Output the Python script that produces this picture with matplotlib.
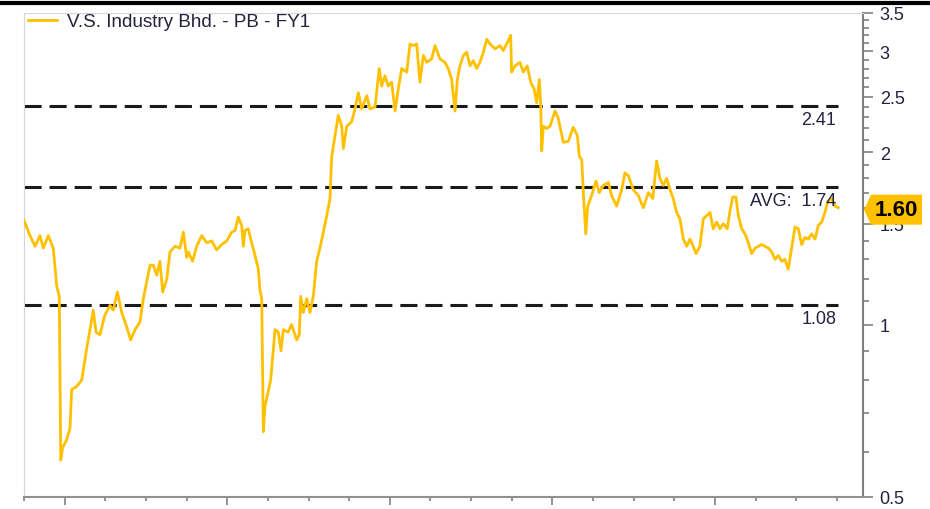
import matplotlib
matplotlib.use('Agg')
import matplotlib.pyplot as plt
from matplotlib.ticker import FixedLocator, NullFormatter, FixedFormatter
from matplotlib.patches import Polygon
from matplotlib.lines import Line2D

plt.rcParams['font.family'] = ['Liberation Sans', 'DejaVu Sans']

# ---- data (time in decimal years, P/B ratio) ----
time = [2018.750, 2018.787, 2018.818, 2018.848, 2018.869, 2018.899, 2018.930, 2018.951,
        2018.967, 2018.976, 2018.988, 2019.013, 2019.033, 2019.043, 2019.074, 2019.105,
        2019.136, 2019.156, 2019.176, 2019.193, 2019.217, 2019.248, 2019.279, 2019.299,
        2019.324, 2019.351, 2019.377, 2019.406, 2019.433, 2019.463, 2019.484, 2019.505,
        2019.525, 2019.545, 2019.566, 2019.586, 2019.603, 2019.628, 2019.648, 2019.679,
        2019.709, 2019.730, 2019.751, 2019.760, 2019.787, 2019.812, 2019.843, 2019.874,
        2019.904, 2019.935, 2019.966, 2019.997, 2020.027, 2020.048, 2020.068, 2020.089,
        2020.099, 2020.109, 2020.129, 2020.150, 2020.171, 2020.191, 2020.201, 2020.212,
        2020.222, 2020.232, 2020.246, 2020.267, 2020.294, 2020.314, 2020.331, 2020.345,
        2020.375, 2020.396, 2020.427, 2020.443, 2020.452, 2020.468, 2020.489, 2020.509,
        2020.529, 2020.550, 2020.570, 2020.591, 2020.612, 2020.632, 2020.642, 2020.663,
        2020.683, 2020.704, 2020.714, 2020.735, 2020.765, 2020.786, 2020.806, 2020.827,
        2020.858, 2020.878, 2020.909, 2020.935, 2020.950, 2020.970, 2020.990, 2021.011,
        2021.032, 2021.052, 2021.073, 2021.104, 2021.124, 2021.144, 2021.165, 2021.185,
        2021.206, 2021.227, 2021.257, 2021.278, 2021.308, 2021.339, 2021.359, 2021.380,
        2021.401, 2021.415, 2021.431, 2021.452, 2021.473, 2021.493, 2021.513, 2021.534,
        2021.554, 2021.575, 2021.596, 2021.616, 2021.647, 2021.677, 2021.698, 2021.728,
        2021.743, 2021.749, 2021.770, 2021.800, 2021.821, 2021.845, 2021.866, 2021.887,
        2021.903, 2021.919, 2021.928, 2021.934, 2021.944, 2021.965, 2021.985, 2022.016,
        2022.036, 2022.067, 2022.098, 2022.128, 2022.153, 2022.165, 2022.180, 2022.190,
        2022.205, 2022.217, 2022.241, 2022.268, 2022.288, 2022.313, 2022.344, 2022.364,
        2022.395, 2022.426, 2022.446, 2022.467, 2022.497, 2022.528, 2022.559, 2022.590,
        2022.617, 2022.641, 2022.661, 2022.682, 2022.703, 2022.723, 2022.743, 2022.764,
        2022.784, 2022.805, 2022.826, 2022.846, 2022.866, 2022.883, 2022.907, 2022.928,
        2022.949, 2022.969, 2022.989, 2023.010, 2023.030, 2023.051, 2023.075, 2023.092,
        2023.109, 2023.129, 2023.143, 2023.164, 2023.184, 2023.205, 2023.225, 2023.246,
        2023.266, 2023.287, 2023.307, 2023.328, 2023.348, 2023.369, 2023.389, 2023.410,
        2023.430, 2023.450, 2023.471, 2023.492, 2023.512, 2023.533, 2023.553, 2023.574,
        2023.594, 2023.615, 2023.635, 2023.656, 2023.676, 2023.693, 2023.717, 2023.738,
        2023.758]

pb = [1.52, 1.43, 1.37, 1.43, 1.36, 1.43, 1.36, 1.17,
      1.12, 0.58, 0.61, 0.63, 0.66, 0.77, 0.78, 0.80,
      0.91, 0.98, 1.06, 0.97, 0.96, 1.04, 1.08, 1.06,
      1.14, 1.05, 1.00, 0.94, 0.98, 1.01, 1.11, 1.19,
      1.27, 1.27, 1.22, 1.29, 1.14, 1.20, 1.34, 1.37,
      1.36, 1.45, 1.31, 1.34, 1.29, 1.37, 1.43, 1.39,
      1.40, 1.35, 1.38, 1.40, 1.45, 1.46, 1.54, 1.49,
      1.37, 1.46, 1.47, 1.39, 1.32, 1.25, 1.15, 1.11,
      0.65, 0.72, 0.75, 0.80, 0.98, 0.97, 0.90, 0.98,
      0.97, 1.00, 0.94, 0.96, 1.12, 1.05, 1.11, 1.05,
      1.12, 1.29, 1.36, 1.45, 1.55, 1.66, 1.96, 2.14,
      2.32, 2.22, 2.03, 2.22, 2.26, 2.38, 2.54, 2.38,
      2.51, 2.38, 2.40, 2.80, 2.61, 2.72, 2.61, 2.65,
      2.36, 2.58, 2.80, 2.76, 3.09, 3.07, 3.09, 2.65,
      2.95, 2.87, 2.91, 3.07, 2.91, 2.87, 2.80, 2.68,
      2.36, 2.68, 2.83, 2.95, 2.99, 2.83, 2.89, 2.80,
      2.87, 2.99, 3.15, 3.09, 3.03, 3.07, 3.01, 3.13,
      3.20, 2.76, 2.83, 2.87, 2.76, 2.83, 2.65, 2.58,
      2.44, 2.68, 2.41, 2.01, 2.22, 2.20, 2.22, 2.36,
      2.29, 2.08, 2.09, 2.21, 2.14, 1.97, 1.94, 1.70,
      1.44, 1.61, 1.68, 1.78, 1.70, 1.75, 1.77, 1.68,
      1.61, 1.72, 1.84, 1.82, 1.72, 1.68, 1.60, 1.70,
      1.66, 1.93, 1.80, 1.75, 1.80, 1.72, 1.66, 1.57,
      1.53, 1.41, 1.37, 1.41, 1.37, 1.33, 1.37, 1.53,
      1.55, 1.57, 1.47, 1.51, 1.47, 1.50, 1.47, 1.58,
      1.67, 1.67, 1.55, 1.47, 1.44, 1.39, 1.33, 1.36,
      1.37, 1.38, 1.37, 1.36, 1.34, 1.30, 1.32, 1.29,
      1.30, 1.25, 1.36, 1.48, 1.47, 1.38, 1.42, 1.41,
      1.44, 1.41, 1.49, 1.51, 1.57, 1.64, 1.66, 1.61,
      1.60]

avg_value = 1.74
upper_value = 2.41
lower_value = 1.08
series_label = 'V.S. Industry Bhd. - PB - FY1'
y_major = [0.5, 1, 1.5, 2, 2.5, 3, 3.5]
y_major_labels = ['0.5', '1', '1.5', '2', '2.5', '3', '3.5']
y_minor = [0.6, 0.7, 0.8, 0.9, 1.1, 1.2, 1.3, 1.4, 1.6, 1.7, 1.8, 1.9,
           2.1, 2.2, 2.3, 2.4, 2.6, 2.7, 2.8, 2.9, 3.1, 3.2, 3.3, 3.4]
x_major = [2019, 2020, 2021, 2022, 2023]
x_minor = [2018.75, 2019.25, 2019.5, 2019.75, 2020.25, 2020.5, 2020.75,
           2021.25, 2021.5, 2021.75, 2022.25, 2022.5, 2022.75,
           2023.25, 2023.5, 2023.75]

LINE = '#FFC000'
TXT = '#23233d'
W, H = 930, 510

fig = plt.figure(figsize=(W / 100, H / 100), dpi=100)
ax = fig.add_axes([24 / W, 12 / H, 839 / W, 484 / H])

ax.plot(time, pb, color=LINE, lw=2.0, label=series_label, solid_joinstyle='round', zorder=3)
ax.set_yscale('log')
ax.set_ylim(0.5, 3.5)
ax.set_xlim(2018.75, 2023.91)

for v in (upper_value, avg_value, lower_value):
    ax.hlines(v, time[0], time[-1], colors='#1a1a1a', lw=2.2,
              linestyles=(0, (5.6, 2.6)), zorder=2)

lab_kw = dict(textcoords='offset pixels', ha='right', va='top', fontsize=13, color=TXT)
ax.annotate(f'{upper_value:.2f}', xy=(time[-1], upper_value), xytext=(-2, -5), **lab_kw)
ax.annotate(f'AVG:  {avg_value:.2f}', xy=(time[-1], avg_value), xytext=(-2, -5), **lab_kw)
ax.annotate(f'{lower_value:.2f}', xy=(time[-1], lower_value), xytext=(-2, -5), **lab_kw)

# axes styling
ax.yaxis.tick_right()
ax.yaxis.set_major_locator(FixedLocator(y_major))
ax.yaxis.set_major_formatter(FixedFormatter(y_major_labels))
ax.yaxis.set_minor_locator(FixedLocator(y_minor))
ax.yaxis.set_minor_formatter(NullFormatter())
ax.tick_params(axis='y', which='major', direction='out', length=7, width=1.2,
               color='#808080', labelsize=13, labelcolor=TXT, pad=5)
ax.tick_params(axis='y', which='minor', direction='out', length=4, width=1.2, color='#808080')

ax.xaxis.set_major_locator(FixedLocator(x_major))
ax.xaxis.set_minor_locator(FixedLocator(x_minor))
ax.xaxis.set_major_formatter(NullFormatter())
ax.tick_params(axis='x', which='major', direction='out', length=6, width=1.2, color='#808080')
ax.tick_params(axis='x', which='minor', direction='out', length=3, width=1.2, color='#808080')

ax.spines['right'].set_color('#808080')
ax.spines['right'].set_linewidth(1.5)
ax.spines['bottom'].set_color('#909090')
ax.spines['bottom'].set_linewidth(1.5)
ax.spines['left'].set_color('#d6d6d6')
ax.spines['top'].set_color('#d6d6d6')

leg = ax.legend(loc='upper left', bbox_to_anchor=(4 / 839, 1.0), frameon=False,
                fontsize=13.6, handlelength=1.55, handletextpad=0.5,
                borderpad=0.0, borderaxespad=0.0)
for t in leg.get_texts():
    t.set_color(TXT)

# thick black rule at the very top
fig.add_artist(Line2D([0.002, 1.0], [1 - 4.3 / H, 1 - 4.3 / H], color='black', lw=3.0))

# last-value badge
fig.canvas.draw()
yd = ax.transData.transform((time[-1], pb[-1]))[1] - 2
xr = ax.transAxes.transform((1, 0))[0]
pts = [(xr + 1, yd), (xr + 8, yd + 15), (xr + 59, yd + 15), (xr + 59, yd - 15), (xr + 8, yd - 15)]
inv = fig.transFigure.inverted()
fpts = [inv.transform(p) for p in pts]
fig.add_artist(Polygon(fpts, closed=True, facecolor=LINE, edgecolor='none', zorder=10))
cx, cy = inv.transform((xr + 33, yd))
fig.text(cx, cy, f'{pb[-1]:.2f}', ha='center', va='center', fontsize=16,
         fontweight='bold', color='black', zorder=11)

fig.savefig('out.png', dpi=100)
